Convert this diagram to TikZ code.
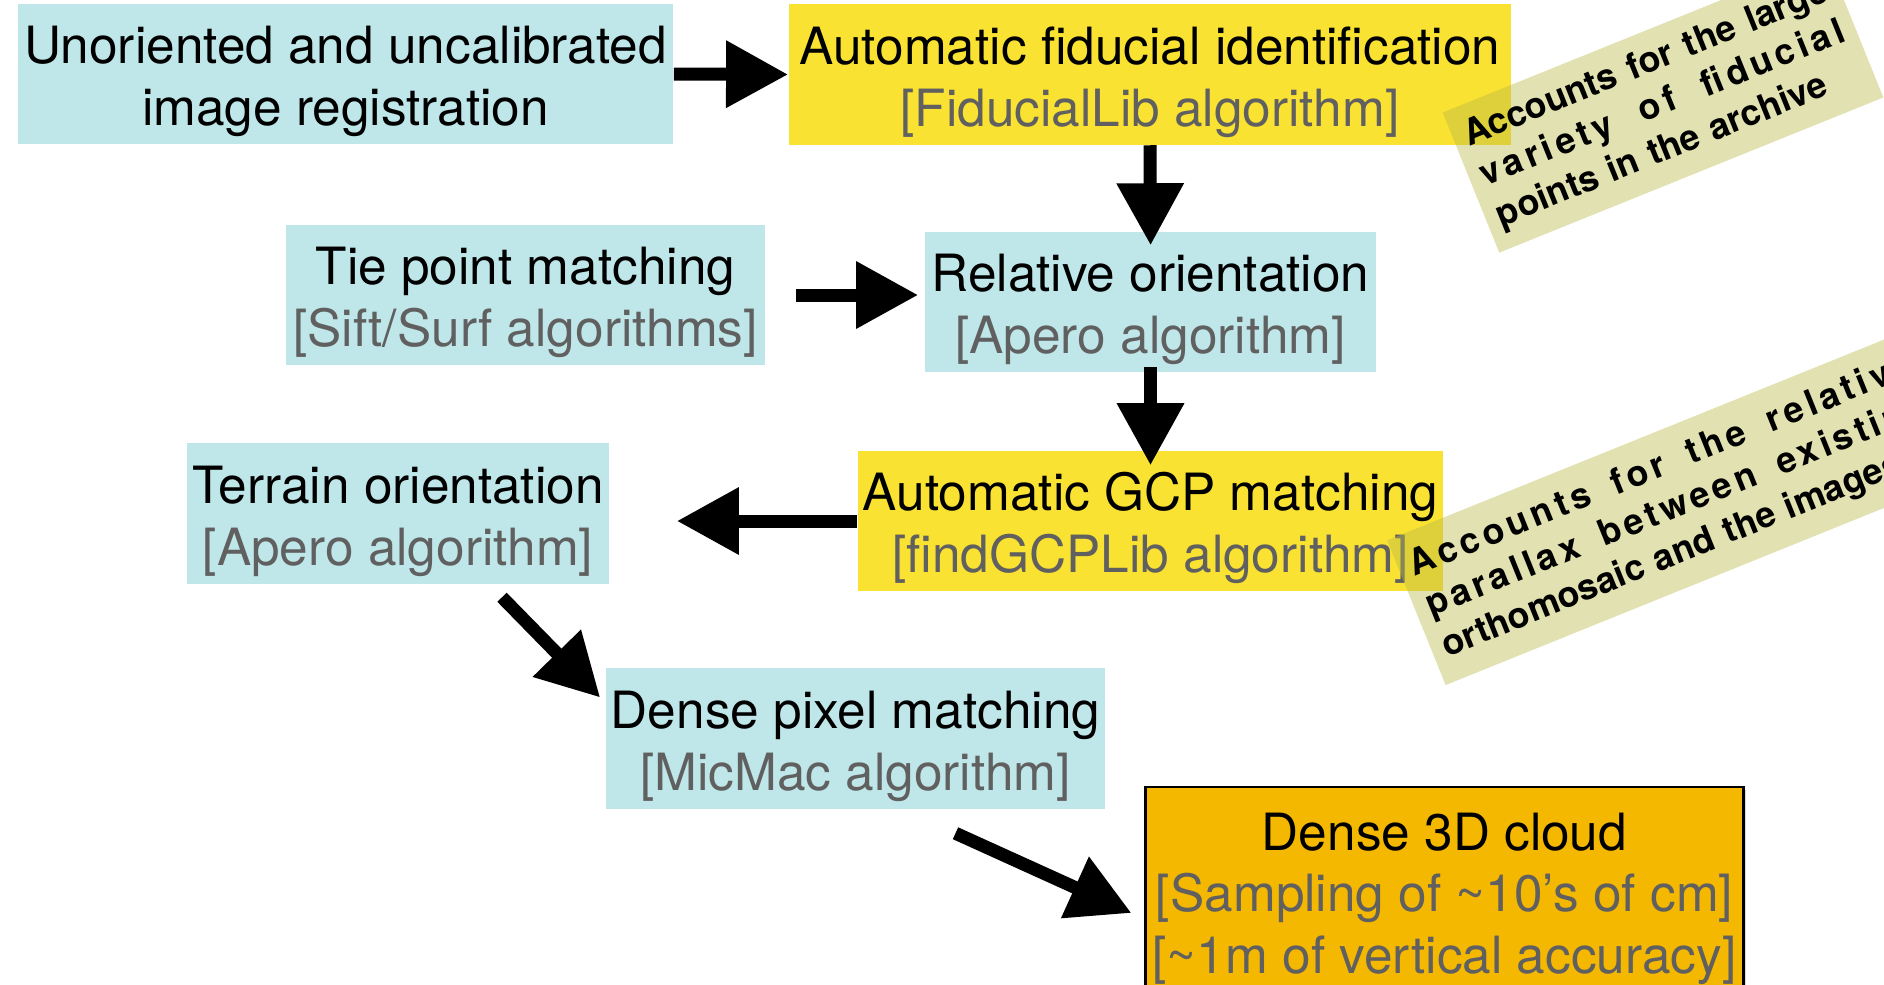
\documentclass[tikz,border=0pt]{standalone}
\usepackage{fontspec}
\setmainfont{TeX Gyre Heros}
\usetikzlibrary{arrows.meta,shadows}

\definecolor{azulclaro}{RGB}{191,230,232}
\definecolor{amarelo}{RGB}{249,226,49}
\definecolor{laranja}{RGB}{245,184,0}
\definecolor{cinza}{RGB}{96,96,96}
\definecolor{nota}{RGB}{186,186,74}

\newcommand{\algtext}[1]{{\color{cinza}#1}}
\newcommand{\boxstrut}{\rule{0pt}{0.53cm}}

\tikzset{
  box/.style={inner sep=0pt, align=center, minimum height=1.4cm,
    font={\fontsize{14.6}{17.6}\selectfont}},
  bluebox/.style={box, fill=azulclaro},
  yellowbox/.style={box, fill=amarelo},
  cloudbox/.style={box, fill=laranja, draw=black, line width=0.8pt,
    minimum width=5.97cm, minimum height=2.08cm,
    drop shadow={shadow xshift=0.03cm, shadow yshift=-0.03cm, opacity=0.3}},
  bigarrow/.style={line width=0.13cm, -{Triangle[length=0.62cm, width=0.64cm]}},
  sticky/.style={fill=nota, fill opacity=0.43, text opacity=1, inner sep=0.12cm,
    align=left, font={\bfseries\fontsize{10.2}{12.4}\selectfont}}
}

\begin{document}
\begin{tikzpicture}[x=0.01cm, y=-0.01cm]

\clip (0,0) rectangle (1884,984);

% caixas
\node[bluebox, minimum width=6.55cm] (unoriented) at (345.5,74) {\boxstrut Unoriented and uncalibrated\\image registration};
\node[yellowbox, minimum width=7.22cm] (fiducial) at (1150,74.5) {\boxstrut Automatic fiducial identification\\\algtext{[FiducialLib algorithm]}};
\node[bluebox, minimum width=4.51cm] (relative) at (1150.5,302) {\boxstrut Relative orientation\\\algtext{[Apero algorithm]}};
\node[bluebox, minimum width=4.79cm] (tiepoint) at (525.5,295) {\boxstrut Tie point matching\\\algtext{[Sift/Surf algorithms]}};
\node[yellowbox, minimum width=5.85cm] (gcp) at (1150.5,521) {\boxstrut Automatic GCP matching\\\algtext{[findGCPLib algorithm]}};
\node[bluebox, minimum width=4.22cm] (terrain) at (398,513.5) {\boxstrut Terrain orientation\\\algtext{[Apero algorithm]}};
\node[bluebox, minimum width=4.99cm] (dense) at (855.5,738.5) {\boxstrut Dense pixel matching\\\algtext{[MicMac algorithm]}};
\node[cloudbox] (cloud) at (1444.5,891) {\boxstrut Dense 3D cloud\\\algtext{[Sampling of \textasciitilde10's of cm]}\\\algtext{[\textasciitilde1m of vertical accuracy]}};

% setas
\draw[bigarrow] (unoriented.east) -- (fiducial.west);
\draw[bigarrow, shorten >=-0.14cm] (fiducial.south) -- (relative.north);
\draw[bigarrow, shorten <=0.3cm, shorten >=0.06cm] (tiepoint.east) -- (tiepoint.east -| relative.west);
\draw[bigarrow, shorten <=-0.06cm, shorten >=-0.15cm] (relative.south) -- (gcp.north);
\draw[bigarrow, shorten >=0.67cm] (gcp.west) -- (gcp.west -| terrain.east);
\draw[bigarrow] ([shift={(104,13)}]terrain.south) -- ([shift={(-5,-41)}]dense.west);
\draw[bigarrow] ([shift={(100,24)}]dense.south) -- ([shift={(-13,22)}]cloud.west);

% notas
\node[sticky, text width=3.9cm, minimum height=1.51cm, rotate=22] (fiducialnote) at (1663,105) {%
\makebox[3.9cm][s]{Accounts\hfill for\hfill the\hfill large}\\
\makebox[3.9cm][s]{\addfontfeature{LetterSpace=12}variety\hfill of\hfill fiducial}\\
points in the archive};
\node[sticky, text width=5.4cm, minimum height=1.56cm, rotate=22] (parallaxnote) at (1678,507) {%
\makebox[5.4cm][s]{\addfontfeature{LetterSpace=12}Accounts\hfill for\hfill the\hfill relative}\\
\makebox[5.4cm][s]{\addfontfeature{LetterSpace=11}parallax\hfill between\hfill existing}\\
orthomosaic and the images};

\end{tikzpicture}
\end{document}
